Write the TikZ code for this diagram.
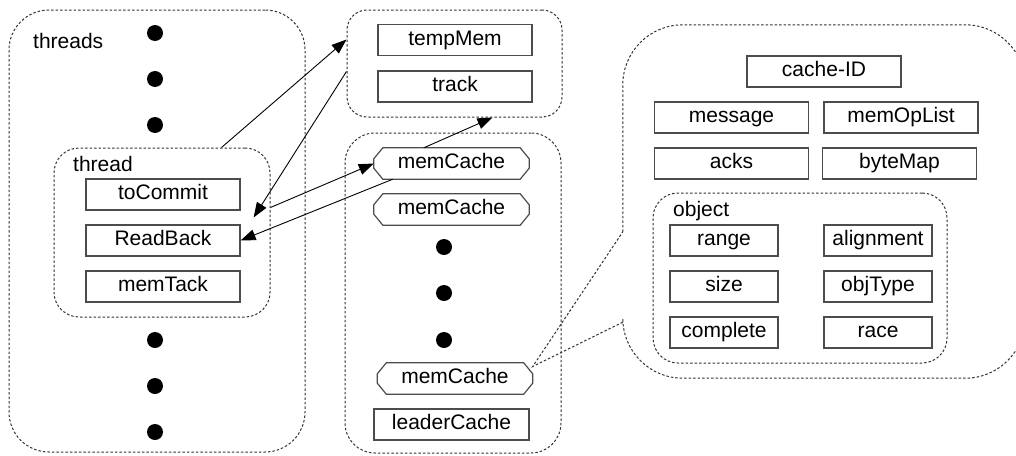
\documentclass[tikz,border=0pt]{standalone}
\usepackage{fontspec}
\setmainfont{Liberation Sans}
\usetikzlibrary{arrows.meta,calc}

% outline of a field box with cut corners
\newcommand\chamferframe[1]{%
  \draw[fieldline]
    ($(#1.north west)+(9,0)$) -- ($(#1.north east)+(-9,0)$) --
    ($(#1.north east)+(0,11)$) -- ($(#1.south east)+(0,-11)$) --
    ($(#1.south east)+(-9,0)$) -- ($(#1.south west)+(9,0)$) --
    ($(#1.south west)+(0,-11)$) -- ($(#1.north west)+(0,11)$) -- cycle;}

\begin{document}
\begin{tikzpicture}[x=1pt,y=-1pt,
  font=\fontsize{21}{25}\selectfont,
  container/.style={draw=black!80, line width=1pt, dash pattern=on 2.5pt off 2pt,
    rounded corners=#1, inner sep=0pt},
  groupline/.style={draw=black!80, line width=1pt, dash pattern=on 2.5pt off 2pt},
  field/.style={draw=black!70, line width=1.2pt, minimum width=154pt,
    minimum height=31pt, inner sep=0pt, text height=15pt, text depth=5pt},
  smallfield/.style={field, minimum width=108pt},
  capsule/.style={minimum width=155pt, minimum height=31pt, inner sep=0pt,
    text height=15pt, text depth=5pt},
  fieldline/.style={draw=black!70, line width=1.2pt},
  dot/.style={circle, fill=black, minimum size=16pt, inner sep=0pt},
  link/.style={draw=black, line width=0.9pt, -{Triangle[length=15pt,width=11pt]}},
  title/.style={anchor=base west, inner sep=0pt}]

\useasboundingbox (0,0) rectangle (1016,455);

% ---- threads ----
\node[container=40, minimum width=296pt, minimum height=442pt] (threads) at (157,231) {};
\node[title] (threadsT) at (33,48) {threads};
\foreach \y [count=\i] in {33,79,125,340,386,432}
  \node[dot] (td\i) at (155,\y) {};

\node[container=25, minimum width=216pt, minimum height=169pt] (thread) at (162,232.5) {};
\node[title] (threadT) at (73,171) {thread};
\node[field] (tc) at (163,194.5) {toCommit};
\node[field] (rb) at (163,240.5) {ReadBack};
\node[field] (mt) at (163,286.5) {memTack};

% ---- temporary memory ----
\node[container=20, minimum width=215pt, minimum height=107pt] (tmc) at (454.5,63.5) {};
\node[field] (tm) at (455,40) {tempMem};
\node[field] (tr) at (455,86.5) {track};

% ---- memory caches ----
\node[container=30, minimum width=216pt, minimum height=320pt] (mcc) at (453,293) {};
\node[capsule] (mc1) at (451.5,163.5) {memCache};
\node[capsule] (mc2) at (451.5,209.5) {memCache};
\foreach \y [count=\i] in {247,293,340}
  \node[dot] (md\i) at (444,\y) {};
\node[capsule] (mc3) at (455,378.5) {memCache};
\chamferframe{mc1}
\chamferframe{mc2}
\chamferframe{mc3}
\node[field, minimum width=155pt] (lc) at (451.5,424.5) {leaderCache};

% ---- cache detail ----
\node[minimum width=402pt, minimum height=353pt, inner sep=0pt] (cb) at (824,201.5) {};
\coordinate (tip) at ($(mc3.east)+(0,-12)$);
\draw[groupline, rounded corners=60]
  ($(cb.north west)+(0,207)$) -- (cb.north west) -- (cb.north east) --
  (cb.south east) -- (cb.south west) -- ($(cb.south west)+(0,-56)$);
\draw[groupline] ($(cb.south west)+(0,-56)$) -- (tip) -- ($(cb.north west)+(0,207)$);

\node[field] (cid) at (824,71.5) {cache-ID};
\node[field] (msg) at (731.5,117.5) {message};
\node[field] (mol) at (901,117.5) {memOpList};
\node[field] (ack) at (731.5,163.5) {acks};
\node[field] (bm) at (899.5,163.5) {byteMap};

\node[container=25, minimum width=294pt, minimum height=170pt] (obj) at (800,278) {};
\node[title] (objT) at (673,216) {object};
\node[smallfield] (rg) at (724,240.5) {range};
\node[smallfield] (al) at (878,240.5) {alignment};
\node[smallfield] (sz) at (724,286.5) {size};
\node[smallfield] (ot) at (878,286.5) {objType};
\node[smallfield] (cp) at (724,332.5) {complete};
\node[smallfield] (rc) at (878,332.5) {race};

% ---- links ----
\draw[link] ($(thread.north west)+(168,0)$) -- ($(tmc.north west)+(0,30)$);
\draw[link] ($(tmc.north west)+(0,62)$) -- ($(tc.south east)!0.5!(rb.north east)+(13,0)$);
\draw[link] ($(thread.north east)+(0,60)$) -- (mc1.west);
\draw[link] ($(mc1.south west)+(19,0)$) -- (rb.east);
\draw[link] ($(mc1.north west)+(50,0)$) -- ($(tmc.south west)+(146,0)$);
\end{tikzpicture}
\end{document}
